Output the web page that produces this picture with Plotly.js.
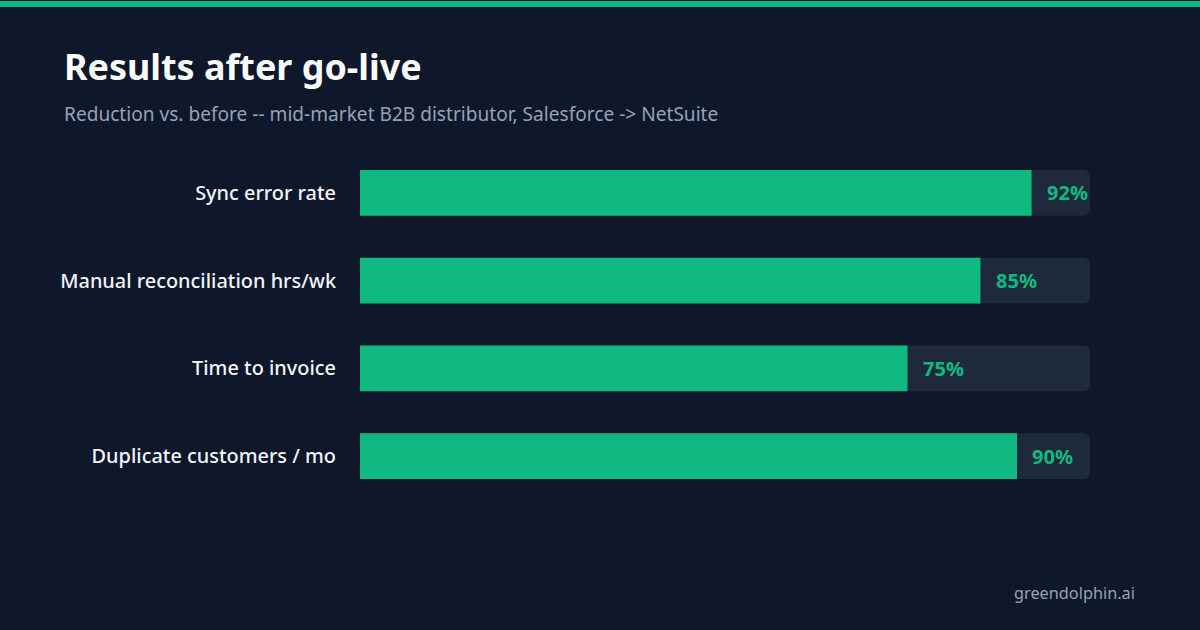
<!DOCTYPE html>
<html>
<head>
<meta charset="utf-8">
<script src="https://cdn.plot.ly/plotly-3.0.1.min.js"></script>
<style>
html,body{margin:0;padding:0;background:#0f172a;}
#chart{width:1200px;height:630px;}
</style>
</head>
<body>
<div id="chart"></div>
<script>
const categories = ["Sync error rate", "Manual reconciliation hrs/wk", "Time to invoice", "Duplicate customers / mo"];
const reductionPct = [92, 85, 75, 90];
const trackMax = [100, 100, 100, 100];
const valueLabels = ["92%", "85%", "75%", "90%"];

const W = 1200, H = 630;
const L = 360, R = 110, T = 148.5, B = 129.5;
const pw = W - L - R, ph = H - T - B;
const px = x => (x - L) / pw;
const py = y => (H - B - y) / ph;

const green = "#10b981";
const font = "Noto Sans, Open Sans, sans-serif";

const track = {
  type: "bar", orientation: "h",
  y: categories, x: trackMax,
  marker: {color: "#1e293b", cornerradius: 6},
  width: 0.52, hoverinfo: "skip", showlegend: false
};
const bars = {
  type: "bar", orientation: "h",
  y: categories, x: reductionPct,
  marker: {color: green, cornerradius: 6},
  width: 0.52, showlegend: false
};

const annotations = reductionPct.map((v, i) => ({
  x: v, y: categories[i], xref: "x", yref: "y",
  text: valueLabels[i], showarrow: false,
  xanchor: "left", xshift: 13,
  font: {family: font, size: 20, color: green, weight: 700}
}));
annotations.push({
  xref: "paper", yref: "paper", x: px(64), y: py(113),
  xanchor: "left", yanchor: "middle", showarrow: false, xshift: -2,
  text: "Reduction vs. before -- mid-market B2B distributor, Salesforce -> NetSuite",
  font: {family: font, size: 19.1, color: "#94a3b8"}
});
annotations.push({
  xref: "paper", yref: "paper", x: px(1136), y: py(594),
  xanchor: "right", yanchor: "middle", showarrow: false, xshift: 1,
  text: "greendolphin.ai",
  font: {family: font, size: 16.3, color: "#94a3b8"}
});

const layout = {
  width: W, height: H,
  paper_bgcolor: "#0f172a", plot_bgcolor: "#0f172a",
  margin: {l: L, r: R, t: T, b: B, pad: 0},
  barmode: "overlay",
  title: {
    text: "Results after go-live",
    x: 64 / W, xanchor: "left", xref: "container",
    y: 1 - 67 / H, yanchor: "middle", yref: "container",
    font: {family: font, size: 35.9, color: "#f8fafc", weight: 700}
  },
  xaxis: {range: [0, 100], visible: false, fixedrange: true},
  yaxis: {
    autorange: false, range: [3.5, -0.5],
    showgrid: false, zeroline: false, showline: false,
    ticks: "outside", ticklen: 19, tickcolor: "rgba(0,0,0,0)",
    tickfont: {family: font, size: 19.9, color: "#f1f5f9", weight: 500},
    fixedrange: true
  },
  shapes: [{
    type: "rect", xref: "paper", yref: "paper",
    x0: px(0), x1: px(W), y0: py(6), y1: py(0),
    fillcolor: green, line: {width: 0}, layer: "above"
  }],
  annotations: annotations
};

Plotly.newPlot("chart", [track, bars], layout, {displayModeBar: false, staticPlot: true});
</script>
</body>
</html>
